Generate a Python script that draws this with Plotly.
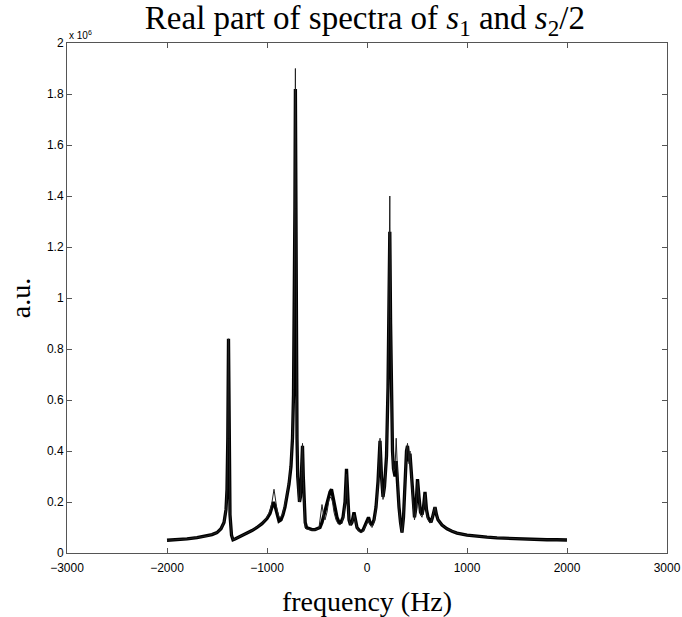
import plotly.graph_objects as go

# frequency (Hz) and values (x 10^6)
freq_thick = [-2000, -1900, -1800, -1700, -1600, -1550, -1500, -1460, -1430, -1410, -1400, -1392, -1385,
              -1378, -1370, -1355, -1340, -1320, -1280, -1240, -1200, -1150, -1100, -1050, -1000, -970,
              -950, -935, -920, -900, -880, -860, -840, -820, -800, -780, -760, -745, -735, -727, -721,
              -716, -711, -706, -700, -693, -685, -675, -665, -655, -645, -637, -628, -618, -605, -580,
              -550, -520, -490, -470, -450, -430, -410, -390, -370, -355, -340, -320, -300, -280, -260,
              -240, -220, -205, -195, -180, -165, -150, -130, -115, -100, -80, -60, -40, -20, 0, 15, 30,
              50, 70, 90, 110, 130, 145, 160, 175, 195, 210, 220, 228, 236, 245, 255, 265, 280, 292, 305,
              320, 335, 350, 365, 380, 395, 405, 420, 430, 445, 460, 475, 490, 505, 520, 535, 550, 565,
              580, 595, 610, 625, 640, 655, 670, 680, 695, 710, 750, 800, 850, 900, 1000, 1100, 1200,
              1300, 1400, 1500, 1600, 1700, 1800, 1900, 2000]
val_thick = [0.050, 0.052, 0.055, 0.060, 0.066, 0.072, 0.080, 0.095, 0.12, 0.17, 0.25, 0.45, 0.84,
             0.45, 0.15, 0.07, 0.052, 0.055, 0.062, 0.070, 0.078, 0.088, 0.100, 0.115, 0.135, 0.155,
             0.180, 0.200, 0.185, 0.150, 0.125, 0.130, 0.150, 0.180, 0.220, 0.270, 0.340, 0.45, 0.62,
             0.95, 1.35, 1.82, 1.30, 0.80, 0.45, 0.30, 0.22, 0.20, 0.22, 0.32, 0.42, 0.30, 0.18, 0.12,
             0.10, 0.095, 0.092, 0.092, 0.095, 0.10, 0.12, 0.15, 0.19, 0.22, 0.24, 0.25, 0.22, 0.18,
             0.14, 0.12, 0.12, 0.14, 0.20, 0.33, 0.22, 0.13, 0.11, 0.12, 0.16, 0.13, 0.10, 0.09, 0.085,
             0.09, 0.11, 0.13, 0.14, 0.12, 0.11, 0.13, 0.18, 0.28, 0.44, 0.30, 0.22, 0.26, 0.38, 0.65,
             0.95, 1.26, 0.90, 0.55, 0.40, 0.33, 0.30, 0.36, 0.27, 0.18, 0.12, 0.08, 0.14, 0.28, 0.40,
             0.42, 0.36, 0.39, 0.30, 0.20, 0.14, 0.18, 0.29, 0.22, 0.16, 0.15, 0.18, 0.24, 0.17, 0.14,
             0.13, 0.12, 0.14, 0.17, 0.18, 0.15, 0.13, 0.11, 0.095, 0.085, 0.078, 0.070, 0.065, 0.062,
             0.059, 0.057, 0.055, 0.054, 0.053, 0.052, 0.052, 0.051]

freq_thin = [-2000, -1800, -1600, -1500, -1460, -1430, -1410, -1400, -1392, -1385, -1378, -1370, -1355,
             -1340, -1320, -1240, -1150, -1050, -1000, -970, -950, -930, -915, -900, -880, -860, -840,
             -820, -800, -780, -760, -745, -735, -727, -721, -716, -711, -706, -700, -693, -685, -675,
             -665, -655, -645, -637, -628, -618, -610, -590, -560, -530, -500, -480, -465, -450, -435,
             -420, -400, -380, -360, -345, -330, -310, -290, -270, -250, -230, -215, -205, -195, -180,
             -165, -150, -130, -115, -100, -80, -60, -40, -20, 0, 15, 30, 50, 70, 90, 110, 130, 145,
             160, 175, 195, 210, 220, 228, 236, 245, 255, 265, 280, 292, 305, 320, 335, 350, 365, 380,
             395, 405, 420, 430, 445, 460, 475, 490, 505, 520, 535, 550, 565, 580, 595, 610, 625, 640,
             655, 670, 680, 695, 710, 750, 800, 900, 1000, 1200, 1400, 1600, 1800, 2000]
val_thin = [0.050, 0.055, 0.066, 0.080, 0.095, 0.12, 0.17, 0.25, 0.45, 0.84, 0.45, 0.15, 0.07,
            0.052, 0.055, 0.070, 0.088, 0.115, 0.14, 0.165, 0.20, 0.25, 0.21, 0.17, 0.14, 0.14, 0.16,
            0.19, 0.23, 0.28, 0.35, 0.46, 0.64, 0.98, 1.40, 1.90, 1.35, 0.82, 0.46, 0.30, 0.22, 0.20,
            0.22, 0.32, 0.43, 0.28, 0.15, 0.10, 0.095, 0.092, 0.090, 0.090, 0.092, 0.10, 0.14, 0.19,
            0.15, 0.13, 0.16, 0.21, 0.22, 0.20, 0.16, 0.13, 0.115, 0.11, 0.12, 0.15, 0.22, 0.31, 0.21,
            0.13, 0.11, 0.12, 0.15, 0.12, 0.10, 0.085, 0.08, 0.085, 0.10, 0.12, 0.13, 0.11, 0.10, 0.12,
            0.17, 0.27, 0.45, 0.29, 0.21, 0.25, 0.37, 0.66, 1.00, 1.40, 0.92, 0.55, 0.38, 0.32, 0.33,
            0.45, 0.28, 0.17, 0.11, 0.08, 0.13, 0.27, 0.40, 0.43, 0.35, 0.40, 0.29, 0.19, 0.13, 0.17,
            0.28, 0.21, 0.15, 0.14, 0.17, 0.23, 0.16, 0.13, 0.12, 0.12, 0.14, 0.17, 0.18, 0.15, 0.13,
            0.11, 0.095, 0.078, 0.070, 0.062, 0.057, 0.054, 0.052, 0.051]

x_ticks = [-3000, -2000, -1000, 0, 1000, 2000, 3000]
x_tick_labels = ["−3000", "−2000", "−1000", "0", "1000", "2000", "3000"]
y_ticks = [0, 0.2, 0.4, 0.6, 0.8, 1.0, 1.2, 1.4, 1.6, 1.8, 2.0]
y_tick_labels = ["0", "0.2", "0.4", "0.6", "0.8", "1", "1.2", "1.4", "1.6", "1.8", "2"]

serif = "Liberation Serif, DejaVu Serif, serif"
sans = "Liberation Sans, Arial, sans-serif"

fig = go.Figure()
fig.add_trace(go.Scatter(x=freq_thick, y=val_thick, mode="lines",
                         line=dict(color="black", width=3.3), name="s2/2", showlegend=False))
fig.add_trace(go.Scatter(x=freq_thin, y=val_thin, mode="lines",
                         line=dict(color="#222222", width=1), name="s1", showlegend=False))

axis_common = dict(showline=True, linecolor="#555555", linewidth=1, mirror="ticks",
                   ticks="inside", ticklen=5, tickcolor="#555555", showgrid=False, zeroline=False,
                   automargin=False,
                   tickfont=dict(family=sans, size=12, color="black"))

fig.update_layout(
    width=682, height=617,
    margin=dict(l=67, r=15, t=43, b=64),
    plot_bgcolor="white", paper_bgcolor="white",
    title=dict(text="Real part of spectra of <i>s</i><sub>1</sub> and <i>s</i><sub>2</sub>/2",
               x=0.535, xanchor="center", y=0.99, yanchor="top",
               font=dict(family=serif, size=33, color="black")),
    xaxis=dict(range=[-3000, 3000], tickvals=x_ticks, ticktext=x_tick_labels,
               ticklabelstandoff=4,
               title=dict(text="frequency (Hz)", font=dict(family=serif, size=28, color="black"),
                          standoff=16),
               **axis_common),
    yaxis=dict(range=[0, 2], tickvals=y_ticks, ticktext=y_tick_labels,
               title=dict(text="a.u.", font=dict(family=serif, size=28, color="black"), standoff=8),
               **axis_common),
    annotations=[dict(text="x 10<sup>6</sup>", xref="paper", yref="paper", x=0.0, y=1.0,
                      xanchor="left", yanchor="bottom", showarrow=False, yshift=0,
                      font=dict(family=sans, size=10, color="black"))],
)

fig.write_html("out.html", config={"displayModeBar": False},
               post_script="document.body.style.margin='0';")
